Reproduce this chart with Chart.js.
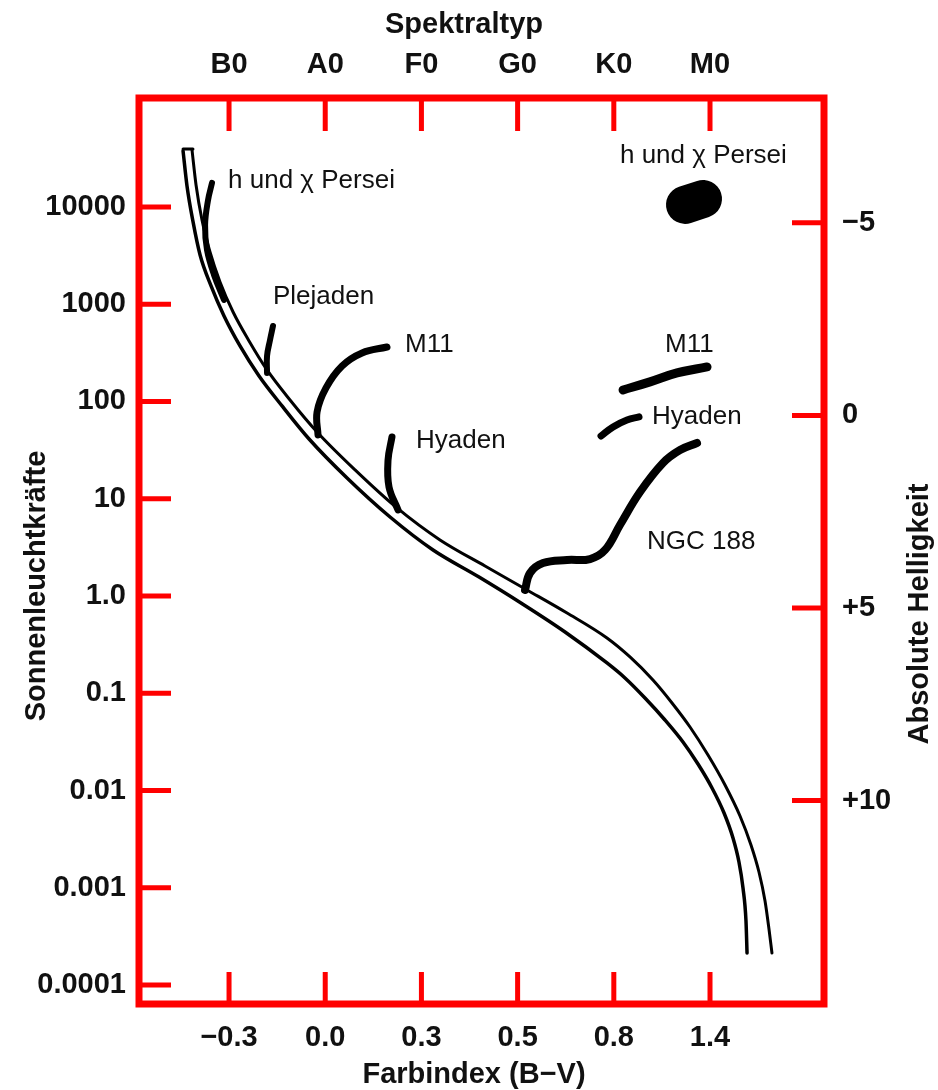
<!DOCTYPE html>
<html lang="de">
<head>
<meta charset="utf-8">
<title>Farben-Helligkeits-Diagramm von Sternhaufen</title>
<script src="https://cdn.jsdelivr.net/npm/chart.js@4.4.1/dist/chart.umd.min.js"></script>
<style>
  html, body { margin: 0; padding: 0; background: #fff; }
  canvas { display: block; }
</style>
</head>
<body>
<canvas id="hrd" width="938" height="1090"></canvas>
<script>
// The colour index axis is not linear: every label sits one step apart,
// so x values are given in "label steps" (1 = -0.3 ... 6 = 1.4)
const colorIndexPos = [1, 2, 3, 4, 5, 6];
const colorIndexLabels = ['\u22120.3', '0.0', '0.3', '0.5', '0.8', '1.4'];
const spectralLabels = ['B0', 'A0', 'F0', 'G0', 'K0', 'M0'];

// y values are log10 of the luminosity in solar units
const luminosityPos = [-4, -3, -2, -1, 0, 1, 2, 3, 4];
const luminosityLabels = ['0.0001', '0.001', '0.01', '0.1', '1.0', '10', '100', '1000', '10000'];

const magnitudeTicks = [-5, 0, 5, 10];
const magnitudeLabels = ['\u22125', '0', '+5', '+10'];

// main sequence band: upper edge and lower edge  [x step, log L]
const msUpper = [
  [0.615, 4.586], [0.657, 4.226], [0.719, 3.866], [0.802, 3.537], [0.906, 3.229],
  [1.042, 2.920], [1.208, 2.622], [1.395, 2.324], [1.634, 2.015], [1.915, 1.686],
  [2.310, 1.296], [2.746, 0.905], [3.193, 0.576], [3.661, 0.308], [4.098, 0.062],
  [4.514, -0.175], [4.929, -0.432], [5.168, -0.627], [5.407, -0.864], [5.605, -1.100],
  [5.792, -1.347], [5.979, -1.635], [6.156, -1.943], [6.312, -2.262], [6.426, -2.560],
  [6.509, -2.838], [6.572, -3.136], [6.613, -3.424], [6.644, -3.671]
];
const msLower = [
  [0.522, 4.576], [0.563, 4.216], [0.626, 3.846], [0.699, 3.506], [0.813, 3.188],
  [0.948, 2.879], [1.114, 2.571], [1.312, 2.262], [1.551, 1.954], [1.832, 1.614],
  [2.227, 1.213], [2.674, 0.812], [3.121, 0.473], [3.599, 0.195], [4.035, -0.072],
  [4.493, -0.370], [4.929, -0.689], [5.116, -0.843], [5.324, -1.049], [5.532, -1.275],
  [5.719, -1.501], [5.875, -1.728], [6.021, -1.974], [6.146, -2.231], [6.239, -2.488],
  [6.301, -2.735], [6.343, -3.003], [6.374, -3.342], [6.385, -3.671]
];
const msTop = [[0.522, 4.596], [0.625, 4.596]];

// cluster branches
const hPerseiMs = [[0.823, 4.247], [0.782, 4.072], [0.751, 3.815], [0.771, 3.558], [0.844, 3.301], [0.948, 3.044]];
const hPerseiGiants = [[5.740, 4.021], [5.927, 4.082]];
const pleiades = [[1.457, 2.776], [1.426, 2.632], [1.395, 2.468], [1.395, 2.293]];
const m11Ms = [[2.642, 2.560], [2.383, 2.499], [2.175, 2.365], [2.008, 2.139], [1.915, 1.892], [1.925, 1.656]];
const m11Giants = [[5.096, 2.118], [5.376, 2.201], [5.657, 2.293], [5.969, 2.355]];
const hyadesMs = [[2.694, 1.635], [2.653, 1.398], [2.663, 1.121], [2.757, 0.884]];
const hyadesGiants = [[4.867, 1.645], [4.992, 1.738], [5.137, 1.810], [5.262, 1.841]];
const ngc188 = [
  [4.077, 0.062], [4.129, 0.237], [4.264, 0.339], [4.514, 0.370], [4.753, 0.380],
  [4.909, 0.473], [5.064, 0.730], [5.272, 1.069], [5.511, 1.368], [5.688, 1.501], [5.865, 1.573]
];

// names next to the branches [text, x step, log L]
const clusterLabels = [
  ['h und \u03c7 Persei', 0.990, 4.267],
  ['h und \u03c7 Persei', 5.064, 4.524],
  ['Plejaden', 1.457, 3.075],
  ['M11', 2.830, 2.581],
  ['M11', 5.532, 2.581],
  ['Hyaden', 2.944, 1.594],
  ['Hyaden', 5.397, 1.841],
  ['NGC 188', 5.345, 0.555]
];

const RED = '#ff0000';
const FONT = '"Liberation Sans", Arial, Helvetica, sans-serif';

function curve(data, width, tension) {
  return {
    data: data,
    borderColor: '#000',
    borderWidth: width,
    borderCapStyle: 'round',
    borderJoinStyle: 'round',
    tension: tension === undefined ? 0.4 : tension,
    pointRadius: 0,
    pointHoverRadius: 0,
    fill: false,
    clip: false
  };
}

// the band edges run left to right, so a monotone spline keeps them smooth
function edge(data, width) {
  const ds = curve(data, width);
  ds.cubicInterpolationMode = 'monotone';
  return ds;
}

// red frame, inward tick marks, axis titles and cluster names
const decorations = {
  id: 'decorations',
  afterDraw(chart) {
    const { ctx, chartArea: a, scales } = chart;
    ctx.save();

    ctx.strokeStyle = RED;
    ctx.lineWidth = 5;
    ctx.lineCap = 'butt';
    ctx.beginPath();
    scales.y.ticks.forEach(t => {
      const p = scales.y.getPixelForValue(t.value);
      ctx.moveTo(a.left, p); ctx.lineTo(a.left + 32, p);
    });
    scales.mag.ticks.forEach(t => {
      const p = scales.mag.getPixelForValue(t.value);
      ctx.moveTo(a.right, p); ctx.lineTo(a.right - 32, p);
    });
    scales.x.ticks.forEach(t => {
      const p = scales.x.getPixelForValue(t.value);
      ctx.moveTo(p, a.bottom); ctx.lineTo(p, a.bottom - 32);
    });
    scales.spec.ticks.forEach(t => {
      const p = scales.spec.getPixelForValue(t.value);
      ctx.moveTo(p, a.top); ctx.lineTo(p, a.top + 33);
    });
    ctx.stroke();

    ctx.lineWidth = 7;
    ctx.lineJoin = 'miter';
    ctx.strokeRect(a.left, a.top, a.right - a.left, a.bottom - a.top);

    // axis titles
    ctx.fillStyle = '#111';
    ctx.font = 'bold 29px ' + FONT;
    ctx.textAlign = 'center';
    ctx.textBaseline = 'alphabetic';
    ctx.fillText('Spektraltyp', a.left + 325, a.top - 65);
    ctx.fillText('Farbindex (B\u2212V)', a.left + 335, a.bottom + 79);

    ctx.save();
    ctx.translate(45, a.top + 488);
    ctx.rotate(-Math.PI / 2);
    ctx.fillText('Sonnenleuchtkr\u00e4fte', 0, 0);
    ctx.restore();

    ctx.save();
    ctx.translate(a.right + 104, a.top + 516);
    ctx.rotate(-Math.PI / 2);
    ctx.fillText('Absolute Helligkeit', 0, 0);
    ctx.restore();

    // cluster names
    ctx.font = '26px ' + FONT;
    ctx.textAlign = 'left';
    ctx.textBaseline = 'middle';
    clusterLabels.forEach(l => {
      ctx.fillText(l[0], scales.x.getPixelForValue(l[1]), scales.y.getPixelForValue(l[2]));
    });

    ctx.restore();
  }
};

const tickFont = { family: FONT, size: 29, weight: 'bold' };
const hidden = { display: false, drawTicks: false };

new Chart(document.getElementById('hrd'), {
  type: 'line',
  data: {
    datasets: [
      edge(msUpper, 3),
      edge(msLower, 3.5),
      curve(msTop, 3, 0),
      curve(hPerseiMs, 6),
      curve(hPerseiGiants, 38, 0),
      curve(pleiades, 6),
      curve(m11Ms, 7),
      curve(m11Giants, 9),
      curve(hyadesMs, 7),
      curve(hyadesGiants, 7),
      curve(ngc188, 8)
    ]
  },
  options: {
    responsive: false,
    devicePixelRatio: 1,
    animation: false,
    events: [],
    layout: { padding: 0 },
    plugins: { legend: { display: false }, tooltip: { enabled: false } },
    scales: {
      x: {
        type: 'linear', position: 'bottom', min: 0.064, max: 7.185,
        grid: hidden, border: { display: false },
        afterBuildTicks: s => { s.ticks = colorIndexPos.map(v => ({ value: v })); },
        afterFit: s => { s.height = 86; },
        ticks: {
          autoSkip: false, maxRotation: 0, padding: 17, color: '#111', font: tickFont,
          callback: v => colorIndexLabels[colorIndexPos.indexOf(v)]
        }
      },
      spec: {
        type: 'linear', position: 'top', axis: 'x', min: 0.064, max: 7.185,
        grid: hidden, border: { display: false },
        afterBuildTicks: s => { s.ticks = colorIndexPos.map(v => ({ value: v })); },
        afterFit: s => { s.height = 98; },
        ticks: {
          autoSkip: false, maxRotation: 0, padding: 16, color: '#111', font: tickFont,
          callback: v => spectralLabels[colorIndexPos.indexOf(v)]
        }
      },
      y: {
        type: 'linear', position: 'left', min: -4.195, max: 5.12,
        grid: hidden, border: { display: false },
        afterBuildTicks: s => { s.ticks = luminosityPos.map(v => ({ value: v })); },
        afterFit: s => { s.width = 139; },
        ticks: {
          autoSkip: false, padding: 13, color: '#111', font: tickFont,
          callback: v => luminosityLabels[luminosityPos.indexOf(v)]
        }
      },
      mag: {
        type: 'linear', position: 'right', axis: 'y', reverse: true, min: -8.24, max: 15.28,
        grid: hidden, border: { display: false },
        afterBuildTicks: s => { s.ticks = magnitudeTicks.map(v => ({ value: v })); },
        afterFit: s => { s.width = 114; },
        ticks: {
          autoSkip: false, padding: 18, color: '#111', font: tickFont,
          callback: v => magnitudeLabels[magnitudeTicks.indexOf(v)]
        }
      }
    }
  },
  plugins: [decorations]
});
</script>
</body>
</html>
